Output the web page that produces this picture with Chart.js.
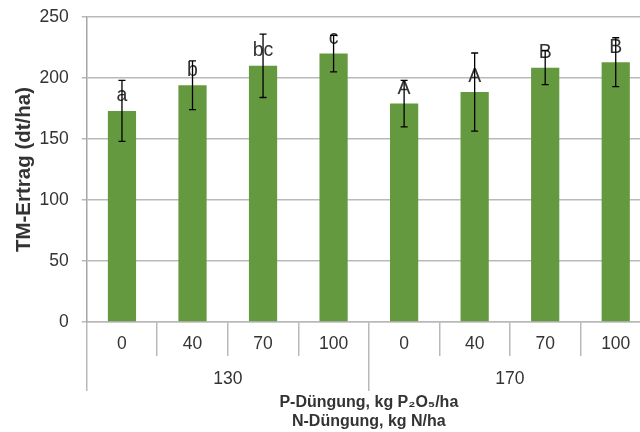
<!DOCTYPE html>
<html>
<head>
<meta charset="utf-8">
<script src="https://cdn.jsdelivr.net/npm/chart.js@4/dist/chart.umd.min.js"></script>
<style>
  html, body { margin: 0; padding: 0; width: 640px; height: 432px; overflow: hidden; background: #fff; }
  #wrap { width: 652px; height: 432px; position: relative; }
</style>
</head>
<body>
<div id="wrap"><canvas id="c"></canvas></div>
<script>
// P fertilisation levels (inner axis row) and N fertilisation groups (outer row)
const pLevels = ['0', '40', '70', '100', '0', '40', '70', '100'];
const nGroups = ['130', '170'];
// Dry matter yield, dt/ha, with standard deviation
const yieldMeans = [173, 194, 210, 220, 179, 188.5, 208.5, 213];
const yieldSd = [25, 20, 26, 15, 19, 32, 14, 20];
// Significance letters per bar
const sigLetters = ['a', 'b', 'bc', 'c', 'A', 'A', 'B', 'B'];
const yTicks = [0, 50, 100, 150, 200, 250];

const FONT = "'Liberation Sans', Arial, Helvetica, sans-serif";
const TEXT = '#333333';
const GRID = '#b9b9b9';
const TICK_SIZE = 17.5;

Chart.defaults.font.family = FONT;
Chart.defaults.color = TEXT;

// Letters and error bars drawn on top of the bars
const barAnnotations = {
  id: 'barAnnotations',
  afterDatasetsDraw(chart) {
    const ctx = chart.ctx;
    const yScale = chart.scales.y;
    const meta = chart.getDatasetMeta(0);
    ctx.save();
    ctx.font = '19.5px ' + FONT;
    ctx.fillStyle = TEXT;
    ctx.textAlign = 'center';
    ctx.textBaseline = 'middle';
    meta.data.forEach((bar, i) => {
      ctx.fillText(sigLetters[i], bar.x, bar.y - 15);
    });
    ctx.strokeStyle = '#000';
    ctx.lineWidth = 1.3;
    meta.data.forEach((bar, i) => {
      const top = yScale.getPixelForValue(yieldMeans[i] + yieldSd[i]);
      const bot = yScale.getPixelForValue(yieldMeans[i] - yieldSd[i]);
      const half = 3.5;
      ctx.beginPath();
      ctx.moveTo(bar.x, top); ctx.lineTo(bar.x, bot);
      ctx.moveTo(bar.x - half, top); ctx.lineTo(bar.x + half, top);
      ctx.moveTo(bar.x - half, bot); ctx.lineTo(bar.x + half, bot);
      ctx.stroke();
    });
    ctx.restore();
  }
};

new Chart(document.getElementById('c'), {
  type: 'bar',
  data: {
    labels: pLevels,
    datasets: [{
      data: yieldMeans,
      backgroundColor: '#64993f',
      borderWidth: 0,
      barPercentage: 0.4,
      categoryPercentage: 1.0
    }]
  },
  options: {
    responsive: true,
    maintainAspectRatio: false,
    animation: false,
    devicePixelRatio: 1,
    layout: { padding: { top: 17, left: 12, right: 1, bottom: 0 } },
    plugins: { legend: { display: false }, tooltip: { enabled: false } },
    scales: {
      x: {
        type: 'category',
        offset: true,
        grid: { offset: true, drawOnChartArea: false, drawTicks: true, tickLength: 34, color: GRID, lineWidth: 1.5 },
        border: { display: true, color: GRID, width: 1.5 },
        ticks: { padding: -22, color: TEXT, font: { size: TICK_SIZE }, maxRotation: 0, autoSkip: false },
        afterFit: (axis) => { axis.height = 34; }
      },
      x2: {
        type: 'category',
        labels: nGroups,
        position: 'bottom',
        offset: true,
        grid: { offset: true, drawOnChartArea: false, drawTicks: true, tickLength: 35, color: GRID, lineWidth: 1.5 },
        border: { display: false },
        ticks: { padding: -22, color: TEXT, font: { size: TICK_SIZE }, maxRotation: 0, autoSkip: false },
        title: {
          display: true,
          text: ['P-Düngung, kg P\u2082O\u2085/ha', 'N-Düngung, kg N/ha'],
          font: { size: 16, weight: 'bold', lineHeight: '18.3px' },
          color: TEXT,
          padding: { top: 0, bottom: 1.5 }
        },
        afterFit: (axis) => { axis.height = 76; }
      },
      y: {
        min: 0,
        max: 250,
        afterBuildTicks: (axis) => { axis.ticks = yTicks.map(v => ({ value: v })); },
        ticks: { padding: 13, color: TEXT, font: { size: TICK_SIZE } },
        grid: { color: GRID, lineWidth: 1.5, tickLength: 5 },
        border: { color: '#a6a6a6', width: 1.5 },
        title: {
          display: true,
          text: 'TM-Ertrag (dt/ha)',
          font: { size: 20.5, weight: 'bold' },
          color: TEXT,
          padding: { top: 0, bottom: 4 }
        },
        afterFit: (axis) => {
          axis.width = 74.7;
          axis.paddingTop = 0;
          axis.paddingBottom = 0;
        }
      }
    }
  },
  plugins: [barAnnotations]
});
</script>
</body>
</html>
